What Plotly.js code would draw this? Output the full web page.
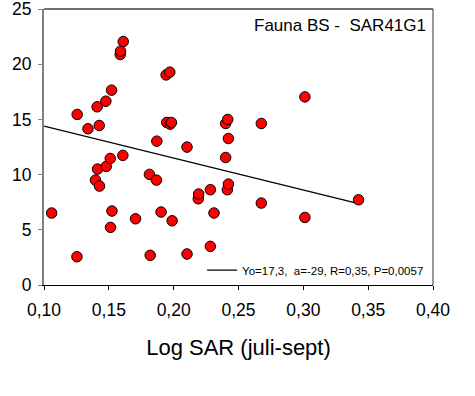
<!DOCTYPE html>
<html>
<head>
<meta charset="utf-8">
<script src="https://cdn.plot.ly/plotly-3.0.1.min.js"></script>
<style>html,body{margin:0;padding:0;background:#fff;}#chart{width:475px;height:396px;}</style>
</head>
<body>
<div id="chart"></div>
<script>
const logSAR = [0.1059,0.1254,0.1256,0.1339,0.1397,0.1410,0.1413,0.1426,0.1428,0.1477,0.1480,0.1511,0.1513,0.1521,0.1524,0.1588,0.1590,0.1608,0.1611,0.1706,0.1813,0.1819,0.1867,0.1870,0.1903,0.1942,0.1947,0.1970,0.1973,0.1983,0.1988,0.2103,0.2103,0.2190,0.2193,0.2283,0.2283,0.2311,0.2401,0.2401,0.2414,0.2417,0.2422,0.2422,0.2676,0.2676,0.3012,0.3012,0.3426];
const fauna = [6.52,2.56,15.45,14.15,9.50,16.14,10.50,14.45,8.96,16.65,10.74,11.46,5.22,17.65,6.70,20.88,21.18,11.74,22.05,6.00,10.02,2.69,9.50,13.03,6.61,19.03,14.72,19.28,14.57,14.72,5.82,12.49,2.81,7.81,8.24,8.63,3.50,6.52,14.63,11.55,8.63,15.0,13.27,9.14,14.63,7.42,17.04,6.12,7.72];
const fitYo = 17.3;
const fitA = -29;
const fitX = [0.10, 0.3426];
const fitY = fitX.map(x => fitYo + fitA * x);
const fitLabel = "Yo=17,3,  a=-29, R=0,35, P=0,0057";
const xTickVals = [0.10,0.15,0.20,0.25,0.30,0.35,0.40];
const xTickText = ["0,10","0,15","0,20","0,25","0,30","0,35","0,40"];
const yTickVals = [0,5,10,15,20,25];
const yTickText = ["0","5","10","15","20","25"];
const chartLabel = "Fauna BS -  SAR41G1";
const xTitle = "Log SAR (juli-sept)";

const font = "Arial, 'Liberation Sans', sans-serif";
const traces = [
  {x: fitX, y: fitY, mode: 'lines', name: fitLabel, line: {color: '#000', width: 1.3}, showlegend: true, hoverinfo: 'skip'},
  {x: logSAR, y: fauna, mode: 'markers', name: 'data', showlegend: false,
   marker: {color: '#FF0000', size: 10.5, line: {color: '#000', width: 1}}}
];
const layout = {
  width: 475, height: 396,
  margin: {l: 43.5, r: 42, t: 8.5, b: 111, pad: 0},
  paper_bgcolor: '#fff', plot_bgcolor: '#fff',
  font: {family: font, color: '#000'},
  xaxis: {range: [0.10, 0.40], tickvals: xTickVals, ticktext: xTickText, ticks: 'outside', ticklen: 4,
          tickcolor: '#000', showline: true, linecolor: '#000', linewidth: 1.3, showgrid: false, zeroline: false,
          ticklabelstandoff: 5,
          tickfont: {size: 17.5, family: font}, title: {text: xTitle, font: {size: 22, family: font}, standoff: 20}},
  yaxis: {range: [0, 25], tickvals: yTickVals, ticktext: yTickText, ticks: 'outside', ticklen: 4,
          tickcolor: '#808080', showline: true, linecolor: '#808080', linewidth: 2, showgrid: false, zeroline: false,
          ticklabeloverflow: 'allow', ticklabelstandoff: 3,
          tickfont: {size: 17.5, family: font}},
  shapes: [
    {type: 'line', xref: 'paper', yref: 'paper', x0: 0, x1: 1, y0: 1, y1: 1, line: {color: '#404040', width: 1.3}},
    {type: 'line', xref: 'paper', yref: 'paper', x0: 1, x1: 1, y0: 0, y1: 1, line: {color: '#606060', width: 1.3}}
  ],
  annotations: [
    {text: chartLabel, xref: 'paper', yref: 'paper', x: 0.986, y: 0.94, xanchor: 'right', yanchor: 'middle',
     showarrow: false, font: {size: 17, family: font, color: '#000'}}
  ],
  showlegend: true,
  legend: {x: 0.99, y: 0.054, xanchor: 'right', yanchor: 'middle', bgcolor: 'rgba(0,0,0,0)',
           font: {size: 11.5, family: font, color: '#000'}, borderwidth: 0}
};
Plotly.newPlot('chart', traces, layout, {displayModeBar: false, staticPlot: true});
</script>
</body>
</html>
